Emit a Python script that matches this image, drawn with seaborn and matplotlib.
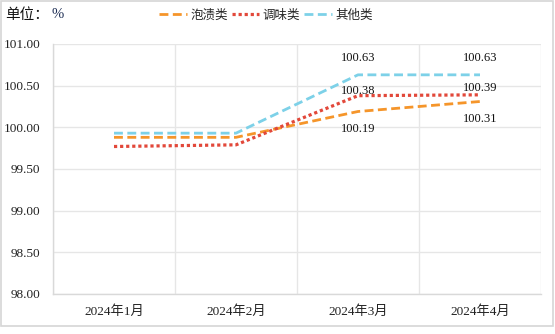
import matplotlib
matplotlib.use("Agg")
import matplotlib.pyplot as plt
import seaborn as sns
import pandas as pd
import numpy as np
from matplotlib.patches import Rectangle
from matplotlib.lines import Line2D

months = ["2024年1月", "2024年2月", "2024年3月", "2024年4月"]
paozi = [99.88, 99.88, 100.19, 100.31]
tiaowei = [99.77, 99.79, 100.38, 100.39]
qita = [99.93, 99.93, 100.63, 100.63]
series_names = ["泡渍类", "调味类", "其他类"]
yticks = [98.00, 98.50, 99.00, 99.50, 100.00, 100.50, 101.00]

colors = {"泡渍类": "#F5952A", "调味类": "#E2483A", "其他类": "#7DD1E8"}
dashes = {"泡渍类": (3.2, 1.6), "调味类": (1, 0.9), "其他类": (3.2, 1.6)}
widths = {"泡渍类": 2.0, "调味类": 2.3, "其他类": 2.0}

sns.set_theme(style="white")
plt.rcParams['font.family'] = ['Liberation Serif', 'Noto Sans CJK SC', 'DejaVu Sans']

df = pd.DataFrame({
    "month": months * 3,
    "value": paozi + tiaowei + qita,
    "series": sum([[s] * 4 for s in series_names], []),
})

fig = plt.figure(figsize=(5.55, 3.34), dpi=100)
ax = fig.add_axes([53/555, 1 - 294/334, (541-53)/555, (294-44)/334])

sns.lineplot(data=df, x="month", y="value", hue="series", style="series",
             palette=colors, dashes=dashes, linewidth=2.0, ax=ax, legend=False,
             sort=False)
for line, s in zip(ax.get_lines(), series_names):
    line.set_linewidth(widths[s])
    line.set_dash_capstyle("butt")

ax.set_xlim(-0.5, 3.5)
ax.set_ylim(98, 101)
ax.set_yticks(yticks)
ax.set_yticklabels([f"{v:.2f}" for v in yticks], fontsize=9.5, color="#222222",
                   family=['Liberation Serif'])
ax.set_xticks(range(4))
ax.set_xticklabels(months, fontsize=9.5, color="#222222",
                   family=['Liberation Serif', 'Noto Sans CJK SC'])
ax.set_xticks([-0.5, 0.5, 1.5, 2.5, 3.5], minor=True)
ax.set_xlabel("")
ax.set_ylabel("")
ax.grid(False)
ax.yaxis.grid(True, color="#E6E6E6", linewidth=1)
ax.xaxis.grid(True, which="minor", color="#E6E6E6", linewidth=1)
ax.tick_params(axis="both", which="both", length=0)
ax.tick_params(axis="y", pad=9)
ax.tick_params(axis="x", pad=8)
for s in ["top", "right"]:
    ax.spines[s].set_visible(False)
for s in ["left", "bottom"]:
    ax.spines[s].set_color("#D9D9D9")
    ax.spines[s].set_linewidth(1)
ax.set_axisbelow(True)

# data labels for Mar and Apr
lab_kw = dict(ha="center", va="center", fontsize=9, color="#111111",
              family=['Liberation Serif'])
for i in [2, 3]:
    ax.annotate(f"{qita[i]:.2f}", (i, qita[i]), xytext=(0, 12.3), textcoords="offset points", **lab_kw)
    ax.annotate(f"{paozi[i]:.2f}", (i, paozi[i]), xytext=(0, -12.6), textcoords="offset points", **lab_kw)
ax.annotate(f"{tiaowei[2]:.2f}", (2, tiaowei[2]), xytext=(0, 3.5), textcoords="offset points", **lab_kw)
ax.annotate(f"{tiaowei[3]:.2f}", (3, tiaowei[3]), xytext=(0, 5), textcoords="offset points", **lab_kw)

# title
fig.text(5/555, 1 - 15/334, "单位：", fontsize=10.5, va="center", ha="left",
         family=['Noto Sans CJK SC'], color="#111111")
fig.text(52/555, 1 - 15/334, "%", fontsize=10.5, va="center", ha="left",
         family=['Liberation Serif'], color="#1F2F55")

# legend
handles = [Line2D([], [], color=colors[s], linewidth=widths[s],
                  dashes=dashes[s], dash_capstyle="butt") for s in series_names]
leg = fig.legend(handles, series_names, loc="center", bbox_to_anchor=(266/555, 1 - 15/334),
                 ncol=3, frameon=False, handlelength=2.2,
                 handletextpad=0.3, columnspacing=0.3,
                 prop={'family': ['Noto Sans CJK SC'], 'size': 9})

# figure border
fig.patches.append(Rectangle((1/555, 1 - 326/334), 552/555, 325/334,
                             transform=fig.transFigure, fill=False,
                             edgecolor="#D6D6D6", linewidth=1.2))

fig.savefig("out.png", dpi=100)
